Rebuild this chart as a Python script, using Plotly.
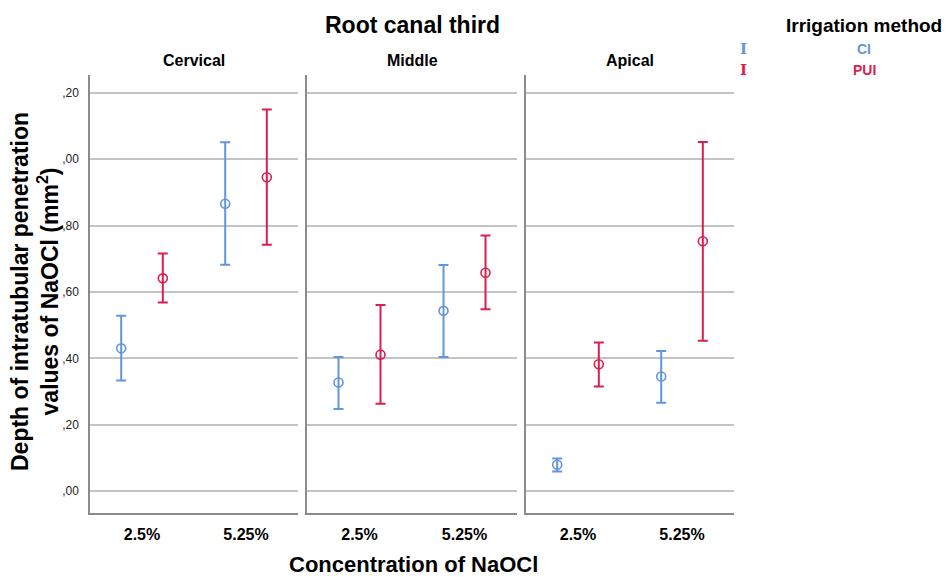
import plotly.graph_objects as go

# ---- data ----
thirds = ["Cervical", "Middle", "Apical"]
concentrations = ["2.5%", "5.25%"]
methods = ["CI", "PUI"]

ci_mean = [[0.430, 0.866], [0.327, 0.543], [0.079, 0.345]]
ci_lower = [[0.333, 0.682], [0.247, 0.404], [0.059, 0.266]]
ci_upper = [[0.528, 1.051], [0.404, 0.681], [0.098, 0.422]]

pui_mean = [[0.641, 0.946], [0.411, 0.658], [0.382, 0.753]]
pui_lower = [[0.568, 0.742], [0.263, 0.548], [0.315, 0.453]]
pui_upper = [[0.716, 1.150], [0.561, 0.770], [0.448, 1.052]]

y_tickvals = [0.0, 0.2, 0.4, 0.6, 0.8, 1.0, 1.2]
y_ticktext = [",00", ",20", ",40", ",60", ",80", ",00", ",20"]

# ---- styling ----
W, H = 947, 577
ML, MR, MT, MB = 90, 213, 75, 64
PW, PH = W - ML - MR, H - MT - MB
FONT = "Liberation Sans, Arial, sans-serif"
COL = {"CI": "#6296da", "PUI": "#da1f4f"}
GRID = "#c4c4c4"
AXIS = "#8a8a8a"


def px2x(px):
    return (px - ML) / PW


def py2y(py):
    return (MT + PH - py) / PH


domains = [[px2x(90), px2x(298)], [px2x(307), px2x(517)], [px2x(526), px2x(734)]]
offsets = {"CI": -0.2, "PUI": 0.2}
series = {
    "CI": (ci_mean, ci_lower, ci_upper),
    "PUI": (pui_mean, pui_lower, pui_upper),
}

fig = go.Figure()
for i, third in enumerate(thirds):
    xa = "x" if i == 0 else f"x{i+1}"
    ya = "y" if i == 0 else f"y{i+1}"
    for m in methods:
        mean, lo, hi = series[m]
        xs = [k + offsets[m] for k in range(len(concentrations))]
        ys = mean[i]
        fig.add_trace(go.Scatter(
            x=xs, y=ys, xaxis=xa, yaxis=ya, mode="markers",
            name=m, showlegend=False,
            marker=dict(symbol="circle-open", size=9, color=COL[m],
                        line=dict(width=1.6, color=COL[m])),
            error_y=dict(type="data", symmetric=False,
                         array=[h - v for h, v in zip(hi[i], ys)],
                         arrayminus=[v - l for v, l in zip(ys, lo[i])],
                         color=COL[m], thickness=2, width=5),
        ))

layout = dict(
    width=W, height=H, autosize=False,
    margin=dict(l=ML, r=MR, t=MT, b=MB),
    paper_bgcolor="white", plot_bgcolor="white",
    font=dict(family=FONT, color="#000"),
)
for i in range(3):
    sx = "" if i == 0 else str(i + 1)
    layout["xaxis" + sx] = dict(
        domain=domains[i], range=[-0.5, 1.5],
        tickvals=list(range(len(concentrations))), ticktext=concentrations,
        tickfont=dict(size=16, family=FONT, weight="bold", color="#000"),
        showgrid=False, zeroline=False, showline=True, linecolor=AXIS,
        linewidth=1.5, ticks="", ticklabelstandoff=6, fixedrange=True,
        anchor="y" + sx,
    )
    layout["yaxis" + sx] = dict(
        range=[-0.0663, 1.254], tickvals=y_tickvals, ticktext=y_ticktext,
        showticklabels=(i == 0),
        tickfont=dict(size=12, family=FONT, color="#222"),
        showgrid=True, gridcolor=GRID, gridwidth=1.5,
        zeroline=False, showline=True, linecolor=AXIS, linewidth=1.5,
        ticks="", ticklabelstandoff=7, fixedrange=True,
        anchor="x" + sx,
    )
    if i > 0:
        layout["yaxis" + sx]["matches"] = "y"
fig.update_layout(**layout)

ann = []
# main title
ann.append(dict(text="<b>Root canal third</b>", x=px2x(412), y=py2y(25),
                font=dict(size=23, family=FONT, color="#000")))
# panel titles
for i, third in enumerate(thirds):
    ann.append(dict(text=f"<b>{third}</b>", x=sum(domains[i]) / 2, y=py2y(60),
                    font=dict(size=16, family=FONT, color="#000")))
# x axis title
ann.append(dict(text="<b>Concentration of NaOCl</b>", x=px2x(414), y=py2y(564),
                font=dict(size=22, family=FONT, color="#000")))
# y axis title
ann.append(dict(text="<b>Depth of intratubular penetration<br>values of NaOCl (mm<sup>2</sup>)</b>",
                x=px2x(35), y=py2y(292), textangle=-90,
                font=dict(size=23, family=FONT, color="#000")))
# legend
ann.append(dict(text="<b>Irrigation method</b>", x=px2x(864), y=py2y(25),
                font=dict(size=19, family=FONT, color="#000")))
for m, py in zip(methods, [49, 70]):
    ann.append(dict(text="<b>I</b>", x=px2x(743), y=py2y(py),
                    font=dict(size=15, family="DejaVu Serif, serif", color=COL[m])))
    ann.append(dict(text=f"<b>{m}</b>", x=px2x(864), y=py2y(py),
                    font=dict(size=14, family=FONT, color=COL[m])))
for a in ann:
    a.update(xref="paper", yref="paper", showarrow=False,
             xanchor="center", yanchor="middle")
fig.update_layout(annotations=ann)

fig.write_html("out.html", config={"displayModeBar": False},
               post_script="document.body.style.margin='0';document.body.style.overflow='hidden';")
